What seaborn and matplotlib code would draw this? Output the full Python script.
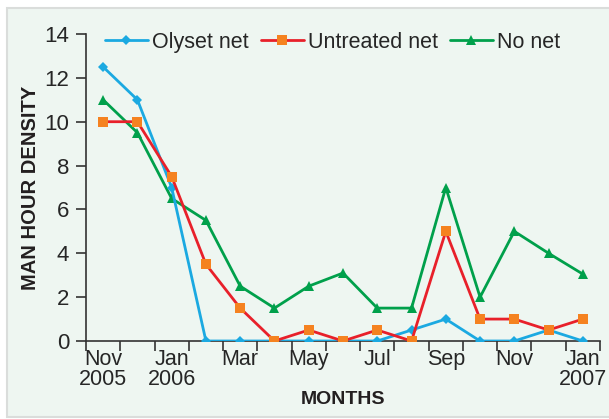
import numpy as np
import pandas as pd
import matplotlib
matplotlib.use('Agg')
import matplotlib.pyplot as plt
from matplotlib.patches import Rectangle
import seaborn as sns

# monthly categories, Nov 2005 .. Jan 2007
months = ['Nov\n2005', 'Dec', 'Jan\n2006', 'Feb', 'Mar', 'Apr', 'May', 'Jun',
          'Jul', 'Aug', 'Sep', 'Oct', 'Nov', 'Dec', 'Jan\n2007']
olyset = [12.5, 11, 7, 0, 0, 0, 0, 0, 0, 0.5, 1, 0, 0, 0.5, 0]
untreated = [10, 10, 7.5, 3.5, 1.5, 0, 0.5, 0, 0.5, 0, 5, 1, 1, 0.5, 1]
no_net = [11, 9.5, 6.5, 5.5, 2.5, 1.5, 2.5, 3.1, 1.5, 1.5, 7, 2, 5, 4, 3.05]

bg = '#EEF6F1'
sns.set_style('ticks')
plt.rcParams['font.family'] = ['Liberation Sans', 'DejaVu Sans']

fig = plt.figure(figsize=(6.09, 4.19), dpi=100)
fig.patch.set_facecolor('white')
fig.patches.append(Rectangle((7/609, 0.004), 1, (417-6)/419*0.995, transform=fig.transFigure,
                             facecolor=bg, edgecolor='#DADDDB', lw=1.5, zorder=-1))
ax = fig.add_axes([86/609, 78/419, 514/609, 307/419])
ax.set_facecolor(bg)

x = np.arange(len(months))
sns.lineplot(x=x, y=olyset, ax=ax, color='#1BA9E1', lw=2, marker='D', markersize=5,
             markeredgewidth=0, label='Olyset net', zorder=3)
sns.lineplot(x=x, y=untreated, ax=ax, color='#E8202A', lw=2, marker='s', markersize=7.5,
             markerfacecolor='#F58220', markeredgewidth=0, label='Untreated net', zorder=4)
sns.lineplot(x=x, y=no_net, ax=ax, color='#00A04B', lw=2, marker='^', markersize=7.5,
             markeredgewidth=0, label='No net', zorder=2)

ax.set_xlim(-0.5, len(months) - 0.5)
ax.set_ylim(0, 14)
ax.set_yticks(range(0, 15, 2))
ax.set_xticks(np.arange(-0.5, len(months), 1))
ax.set_xticklabels([])
ax.set_xticks(x[::2], minor=True)
ax.set_xticklabels(months[::2], minor=True, fontsize=15.5, linespacing=0.9)
ax.tick_params(axis='x', which='minor', length=0, pad=6)
ax.tick_params(axis='x', which='major', length=7, width=1.2, color='#333333')
ax.tick_params(axis='y', length=7, width=1.2, color='#333333', labelsize=16, pad=5)
for s in ['top', 'right']:
    ax.spines[s].set_visible(False)
for s in ['left', 'bottom']:
    ax.spines[s].set_color('#333333')
    ax.spines[s].set_linewidth(1.2)
ax.spines['bottom'].set_zorder(1)

ax.set_xlabel('MONTHS', fontsize=14, fontweight='bold', color='#231F20', labelpad=1)
ax.set_ylabel('MAN HOUR DENSITY', fontsize=14.5, fontweight='bold', color='#231F20', labelpad=3)

ax.legend(loc='upper left', bbox_to_anchor=(0.02, 1.035), ncol=3, frameon=False,
          fontsize=15.5, handlelength=2.0, handletextpad=0.2, columnspacing=0.55,
          borderaxespad=0)

fig.savefig('out.png', dpi=100, facecolor=fig.get_facecolor())
